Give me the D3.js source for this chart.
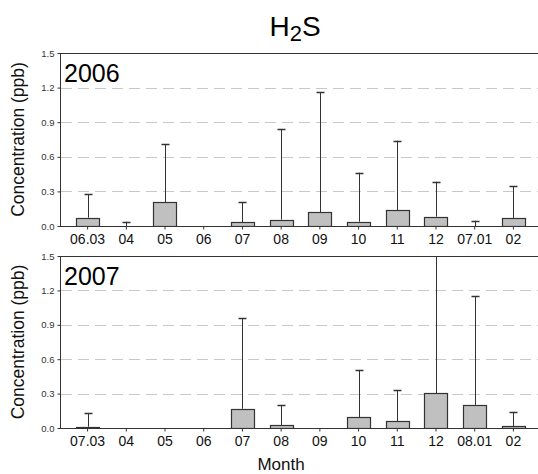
<!DOCTYPE html>
<html>
<head>
<meta charset="utf-8">
<script src="https://cdn.jsdelivr.net/npm/d3@7"></script>
<style>
  body { margin: 0; background: #fff; }
  svg { display: block; font-family: "Liberation Sans", Arial, sans-serif; }
</style>
</head>
<body>
<div id="chart"></div>
<script>
// monthly H2S means and upper error bars (ppb)
const labels2006 = ["06.03", "04", "05", "06", "07", "08", "09", "10", "11", "12", "07.01", "02"];
const means2006 = [0.072, 0, 0.208, 0, 0.032, 0.055, 0.121, 0.037, 0.136, 0.081, 0, 0.069];
const errTop2006 = [0.275, 0.037, 0.711, null, 0.205, 0.838, 1.16, 0.462, 0.74, 0.384, 0.046, 0.344];

const labels2007 = ["07.03", "04", "05", "06", "07", "08", "09", "10", "11", "12", "08.01", "02"];
const means2007 = [0.011, 0, 0, 0, 0.168, 0.026, 0, 0.093, 0.061, 0.302, 0.201, 0.014];
const errTop2007 = [0.128, null, null, null, 0.959, 0.197, null, 0.506, 0.331, 1.62, 1.148, 0.136];

const yTicks = [0, 0.3, 0.6, 0.9, 1.2, 1.5];

const width = 538, height = 474;
const svg = d3.select("#chart").append("svg")
  .attr("width", width)
  .attr("height", height);

// title with subscript
const title = svg.append("text")
  .attr("x", 295)
  .attr("y", 36)
  .attr("text-anchor", "middle")
  .attr("font-size", 28)
  .attr("fill", "#000");
title.append("tspan").text("H");
title.append("tspan").attr("font-size", 22).attr("dy", 5).text("2");
title.append("tspan").attr("dy", -5).text("S");

function panel(top, bottom, year, labels, means, errTop, id) {
  const x = d3.scaleBand()
    .domain(labels.map((d, i) => i))
    .range([60.5, 540.5])
    .padding(0.4);

  const y = d3.scaleLinear()
    .domain([0, 1.5])
    .range([bottom, top]);

  const g = svg.append("g");

  g.append("clipPath").attr("id", id)
    .append("rect")
    .attr("x", 60).attr("y", top)
    .attr("width", 480).attr("height", bottom - top);

  // dashed grid
  g.append("g")
    .selectAll("line")
    .data(yTicks.slice(1, -1))
    .join("line")
    .attr("x1", 61).attr("x2", width)
    .attr("y1", d => Math.round(y(d)) + 0.5)
    .attr("y2", d => Math.round(y(d)) + 0.5)
    .attr("stroke", "#c8c8c8")
    .attr("stroke-width", 1)
    .attr("stroke-dasharray", "11,6");

  // top frame
  g.append("line")
    .attr("x1", 60).attr("x2", width)
    .attr("y1", Math.round(y(1.5)) + 0.5)
    .attr("y2", Math.round(y(1.5)) + 0.5)
    .attr("stroke", "#333");

  const data = labels.map((d, i) => ({ i, mean: means[i], err: errTop[i] }));

  const plot = g.append("g").attr("clip-path", `url(#${id})`);

  // error bars
  const eb = plot.append("g")
    .selectAll("g")
    .data(data.filter(d => d.err != null))
    .join("g");

  eb.append("line")
    .attr("x1", d => Math.round(x(d.i) + x.bandwidth() / 2) + 0.5)
    .attr("x2", d => Math.round(x(d.i) + x.bandwidth() / 2) + 0.5)
    .attr("y1", d => y(d.mean))
    .attr("y2", d => y(d.err))
    .attr("stroke", "#333");

  eb.append("line")
    .attr("x1", d => Math.round(x(d.i) + x.bandwidth() / 2) - 3.5)
    .attr("x2", d => Math.round(x(d.i) + x.bandwidth() / 2) + 4.5)
    .attr("y1", d => Math.round(y(d.err)) + 0.5)
    .attr("y2", d => Math.round(y(d.err)) + 0.5)
    .attr("stroke", "#333")
    .attr("stroke-width", 1.5);

  // bars
  plot.append("g")
    .selectAll("rect")
    .data(data.filter(d => d.mean > 0))
    .join("rect")
    .attr("x", d => Math.round(x(d.i)) + 0.5)
    .attr("width", Math.round(x.bandwidth()))
    .attr("y", d => Math.round(y(d.mean)) + 0.5)
    .attr("height", d => Math.max(1, bottom - Math.round(y(d.mean))))
    .attr("fill", "#c0c0c0")
    .attr("stroke", "#333")
    .attr("stroke-width", 1.2);

  // y axis
  const yAxis = g.append("g")
    .attr("transform", "translate(60.5,0)")
    .call(d3.axisLeft(y).tickValues(yTicks).tickSize(3).tickPadding(3)
      .tickFormat(d3.format(".1f")));
  yAxis.select(".domain").attr("stroke", "#333").attr("d", `M0,${top}V${bottom}`);
  yAxis.selectAll(".tick line").attr("stroke", "#333");
  yAxis.selectAll("text")
    .attr("font-size", 9.5)
    .attr("font-family", "Liberation Sans, Arial, sans-serif")
    .attr("fill", "#333");

  // x axis
  const xAxis = g.append("g")
    .attr("transform", `translate(0,${bottom + 0.5})`)
    .call(d3.axisBottom(x).tickSize(3).tickPadding(5)
      .tickFormat(i => labels[i]));
  xAxis.select(".domain").attr("stroke", "#333").attr("d", `M60,0H${width}`);
  xAxis.selectAll(".tick line").attr("stroke", "#333");
  xAxis.selectAll("text")
    .attr("font-size", 14)
    .attr("font-family", "Liberation Sans, Arial, sans-serif")
    .attr("fill", "#111");

  // year label
  g.append("text")
    .attr("x", 64)
    .attr("y", top + 29)
    .attr("font-size", 25)
    .attr("fill", "#000")
    .text(year);

  // y title
  g.append("text")
    .attr("transform", `translate(24,${(top + bottom) / 2}) rotate(-90)`)
    .attr("text-anchor", "middle")
    .attr("font-size", 17.5)
    .attr("fill", "#111")
    .text("Concentration (ppb)");
}

panel(53, 226, "2006", labels2006, means2006, errTop2006, "clip2006");
panel(256, 428, "2007", labels2007, means2007, errTop2007, "clip2007");

svg.append("text")
  .attr("x", 281)
  .attr("y", 470)
  .attr("text-anchor", "middle")
  .attr("font-size", 17)
  .attr("fill", "#111")
  .text("Month");
</script>
</body>
</html>
